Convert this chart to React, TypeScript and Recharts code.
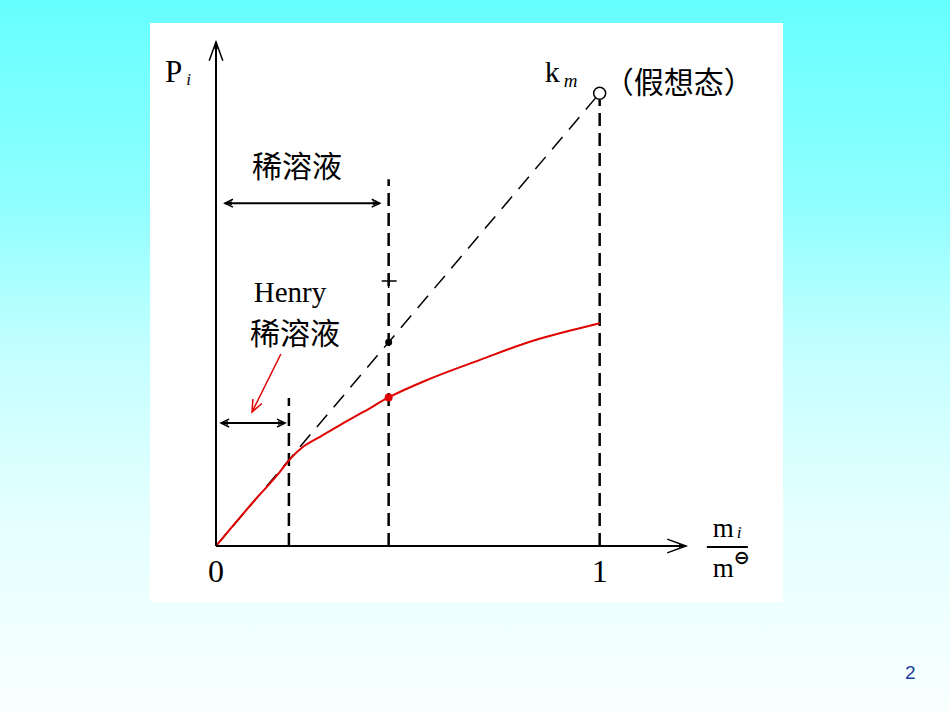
import React from "react";
import {
	ComposedChart,
	Line,
	XAxis,
	YAxis,
	ReferenceLine,
	ReferenceDot,
} from "recharts";

const realX = [0, 0.1, 0.16, 0.193, 0.227, 0.271, 0.323, 0.384, 0.45, 0.557, 0.688, 0.818, 0.948, 1.0];
const realP = [0, 0.1, 0.157, 0.192, 0.219, 0.241, 0.267, 0.296, 0.328, 0.369, 0.411, 0.451, 0.481, 0.492];
// Henry's law line, extrapolated to the hypothetical state k_m
const henryX = [0, 1];
const henryP = [0, 1];
const xTicks = [0, 1];

// composition limits of the two dilute ranges
const henryLimit = 0.19;
const diluteLimit = 0.45;
const kmX = 1;

const realData = realX.map((x, i) => ({ x, p: realP[i] }));
const henryData = henryX.map((x, i) => ({ x, p: henryP[i] }));

const SERIF = "'Liberation Serif', 'Times New Roman', serif";
const CJK = "'Noto Sans CJK SC', sans-serif";

function barbs(x: number, y: number, ang: number, len: number, spread: number) {
	const a1 = ang + Math.PI - spread;
	const a2 = ang + Math.PI + spread;
	return `M${x + len * Math.cos(a1)},${y + len * Math.sin(a1)} L${x},${y} L${x + len * Math.cos(a2)},${y + len * Math.sin(a2)}`;
}

function tipBlob(x: number, y: number, ang: number) {
	const bx = x - 7 * Math.cos(ang);
	const by = y - 7 * Math.sin(ang);
	const nx = -Math.sin(ang) * 2;
	const ny = Math.cos(ang) * 2;
	return `M${x},${y} L${bx + nx},${by + ny} L${bx - nx},${by - ny} Z`;
}

const DoubleArrow = (p: any) => {
	const { x1, y1, x2, y2 } = p;
	const ang = Math.atan2(y2 - y1, x2 - x1);
	return (
		<g>
			<line x1={x1} y1={y1} x2={x2} y2={y2} stroke="#000" strokeWidth={2} />
			<path d={barbs(x2, y2, ang, 9, 0.45)} stroke="#000" strokeWidth={1.5} fill="none" />
			<path d={barbs(x1, y1, ang + Math.PI, 9, 0.45)} stroke="#000" strokeWidth={1.5} fill="none" />
			<path d={tipBlob(x2, y2, ang)} fill="#000" />
			<path d={tipBlob(x1, y1, ang + Math.PI)} fill="#000" />
		</g>
	);
};

const Pointer = (p: any) => {
	const { x1, y1, x2, y2 } = p;
	const ang = Math.atan2(y2 - y1, x2 - x1);
	return (
		<g>
			<line x1={x1} y1={y1} x2={x2} y2={y2} stroke="#e00000" strokeWidth={1.5} />
			<path d={barbs(x2, y2, ang, 13, 0.4)} stroke="#e00000" strokeWidth={1.5} fill="none" />
		</g>
	);
};

const AxisHead = (p: any, ang: number) => (
	<g>
		<path d={barbs(p.cx, p.cy, ang, 20, 0.35)} stroke="#000" strokeWidth={1.5} fill="none" />
		<path d={tipBlob(p.cx, p.cy, ang)} fill="#000" />
	</g>
);

const renderTick = (p: any) => (
	<text x={p.x} y={p.y + 36} textAnchor="middle" fontFamily={SERIF} fontSize={32} fill="#000">
		{p.payload.value}
	</text>
);

const dash = { stroke: "#000", strokeWidth: 2.5, strokeDasharray: "13 7" };

export default function App() {
	return (
		<div
			style={{
				position: "absolute",
				left: 0,
				top: 0,
				width: 950,
				height: 713,
				overflow: "hidden",
				background:
					"linear-gradient(#66ffff 0%, #8fffff 28%, #c5ffff 50%, #e4ffff 72%, #f9ffff 100%)",
			}}
		>
			<div
				style={{
					position: "absolute",
					left: 150,
					top: 23,
					width: 633,
					height: 579,
					background: "#fff",
				}}
			/>
			<div style={{ position: "absolute", left: 0, top: 0 }}>
				<ComposedChart
					width={950}
					height={713}
					margin={{ top: 42, right: 264, bottom: 127, left: 156 }}
				>
					<XAxis
						type="number"
						dataKey="x"
						domain={[0, 1.225]}
						allowDataOverflow
						ticks={xTicks}
						height={40}
						axisLine={{ stroke: "#000", strokeWidth: 2 }}
						tickLine={false}
						tickSize={0}
						tickMargin={0}
						tick={renderTick}
					/>
					<YAxis
						type="number"
						domain={[0, 1.113]}
						allowDataOverflow
						width={60}
						axisLine={{ stroke: "#000", strokeWidth: 2 }}
						tickLine={false}
						tick={false}
					/>

					<ReferenceLine segment={[{ x: henryLimit, y: 0 }, { x: henryLimit, y: 0.327 }]} {...dash} />
					<ReferenceLine segment={[{ x: diluteLimit, y: 0 }, { x: diluteLimit, y: 0.81 }]} {...dash} />
					<ReferenceLine segment={[{ x: kmX, y: 0 }, { x: kmX, y: 0.985 }]} {...dash} />

					<Line
						data={henryData}
						dataKey="p"
						type="linear"
						stroke="#000"
						strokeWidth={1.5}
						strokeDasharray="16 10"
						dot={false}
						isAnimationActive={false}
					/>
					<Line
						data={realData}
						dataKey="p"
						type="monotone"
						stroke="#e00000"
						strokeWidth={2}
						dot={false}
						isAnimationActive={false}
					/>

					{/* ranges */}
					<ReferenceLine segment={[{ x: 0.023, y: 0.757 }, { x: 0.427, y: 0.757 }]} shape={DoubleArrow} />
					<ReferenceLine segment={[{ x: 0.013, y: 0.2715 }, { x: 0.18, y: 0.2715 }]} shape={DoubleArrow} />
					<ReferenceLine segment={[{ x: 0.169, y: 0.424 }, { x: 0.094, y: 0.296 }]} shape={Pointer} />

					{/* axis arrow heads */}
					<ReferenceDot x={0} y={1.113} r={0} ifOverflow="visible" shape={(p: any) => AxisHead(p, -Math.PI / 2)} />
					<ReferenceDot x={1.225} y={0} r={0} ifOverflow="visible" shape={(p: any) => AxisHead(p, 0)} />

					{/* marked points */}
					<ReferenceDot x={diluteLimit} y={diluteLimit} r={3.5} fill="#000" stroke="none" ifOverflow="visible" />
					<ReferenceDot x={diluteLimit} y={0.328} r={4} fill="#e00000" stroke="none" ifOverflow="visible" />
					<ReferenceDot x={kmX} y={1} r={6} fill="#fff" stroke="#000" strokeWidth={1.5} ifOverflow="visible" />
					<ReferenceDot
						x={diluteLimit}
						y={0.585}
						r={0}
						ifOverflow="visible"
						shape={(p: any) => (
							<path d={`M${p.cx - 7},${p.cy} H${p.cx + 8} M${p.cx},${p.cy - 7} V${p.cy + 7}`} stroke="#000" strokeWidth={1.5} />
						)}
					/>

					{/* labels */}
					<ReferenceDot
						x={-0.133}
						y={1.024}
						r={0}
						ifOverflow="visible"
						shape={(p: any) => (
							<text x={p.cx} y={p.cy} fontFamily={SERIF} fontSize={31} fill="#000">
								P
								<tspan fontSize={17} fontStyle="italic" dx={4} dy={3}>
									i
								</tspan>
							</text>
						)}
					/>
					<ReferenceDot
						x={0.857}
						y={1.024}
						r={0}
						ifOverflow="visible"
						shape={(p: any) => (
							<text x={p.cx} y={p.cy} fontFamily={SERIF} fontSize={30} fill="#000">
								k
								<tspan fontSize={19} fontStyle="italic" dx={4} dy={5}>
									m
								</tspan>
							</text>
						)}
					/>
					<ReferenceDot
						x={1.206}
						y={1.029}
						r={0}
						ifOverflow="visible"
						shape={(p: any) => (
							<text x={p.cx} y={p.cy} textAnchor="middle" dominantBaseline="central" fontFamily={CJK} fontSize={30} fill="#000">
								（假想态）
							</text>
						)}
					/>
					<ReferenceDot
						x={0.211}
						y={0.843}
						r={0}
						ifOverflow="visible"
						shape={(p: any) => (
							<text x={p.cx} y={p.cy} textAnchor="middle" dominantBaseline="central" fontFamily={CJK} fontSize={30} fill="#000">
								稀溶液
							</text>
						)}
					/>
					<ReferenceDot
						x={0.193}
						y={0.539}
						r={0}
						ifOverflow="visible"
						shape={(p: any) => (
							<text x={p.cx} y={p.cy} textAnchor="middle" fontFamily={SERIF} fontSize={29} fill="#000">
								Henry
							</text>
						)}
					/>
					<ReferenceDot
						x={0.206}
						y={0.475}
						r={0}
						ifOverflow="visible"
						shape={(p: any) => (
							<text x={p.cx} y={p.cy} textAnchor="middle" dominantBaseline="central" fontFamily={CJK} fontSize={30} fill="#000">
								稀溶液
							</text>
						)}
					/>
					<ReferenceDot
						x={1.295}
						y={0}
						r={0}
						ifOverflow="visible"
						shape={(p: any) => (
							<g fontFamily={SERIF} fill="#000">
								<text x={p.cx} y={p.cy - 9} fontSize={27}>
									m
									<tspan fontSize={17} fontStyle="italic" dx={3} dy={1}>
										i
									</tspan>
								</text>
								<line x1={p.cx - 6} y1={p.cy + 1} x2={p.cx + 35} y2={p.cy + 1} stroke="#000" strokeWidth={2} />
								<text x={p.cx} y={p.cy + 31} fontSize={27}>
									m
									<tspan fontSize={19} dx={0} dy={-13} fontWeight="bold" fontFamily="'DejaVu Sans', sans-serif">
										⊖
									</tspan>
								</text>
							</g>
						)}
					/>
				</ComposedChart>
			</div>
			<div
				style={{
					position: "absolute",
					left: 905,
					top: 662,
					fontFamily: "'Liberation Sans', Arial, sans-serif",
					fontSize: 19,
					color: "#1f3f9f",
				}}
			>
				2
			</div>
		</div>
	);
}
